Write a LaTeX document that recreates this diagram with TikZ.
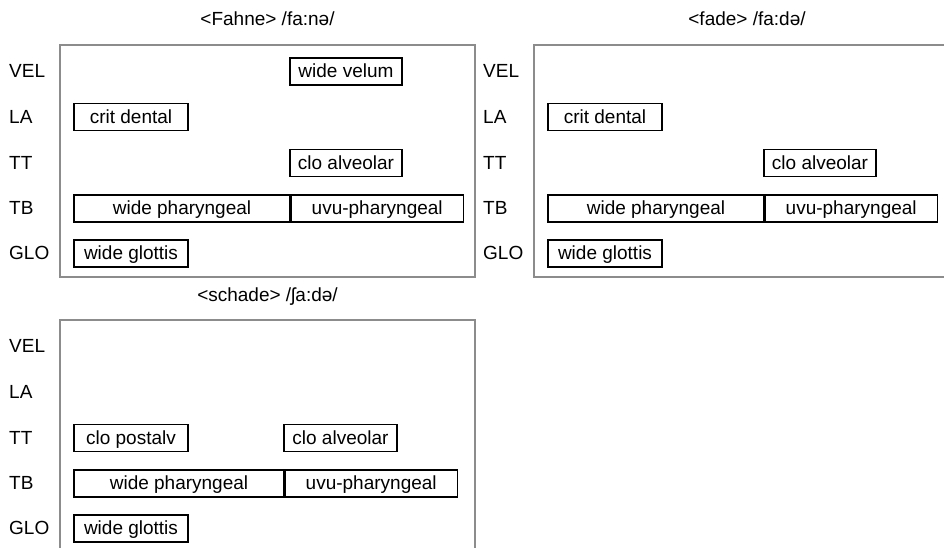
\documentclass[tikz,border=0pt]{standalone}
\usepackage{fontspec}
\setmainfont{Liberation Sans}
\usetikzlibrary{positioning}

\tikzset{
  panel/.style={draw=black!45, line width=1.2pt},
  tier/.style={anchor=west, inner sep=0pt, text height=14pt, text depth=2pt},
  gest/.style={draw, line width=1.2pt, inner sep=0pt, minimum height=27pt, text height=14pt, text depth=2pt},
  word/.style={anchor=base, inner sep=0pt},
}

\begin{document}
\begin{tikzpicture}[x=1pt, y=-1pt, font=\fontsize{19}{22}\selectfont]
		\useasboundingbox (0,0) rectangle (944,547);
		\clip (0,0) rectangle (944,547);
		
		%%%%% FAHNE %%%%%
		\node[word] (fahne) at (267.5,25) {<Fahne> /fa:nə/};
		\draw[panel] (60,45) rectangle (475,277);
		
		\node[tier] (f-vellab) at (9,71.5) {VEL};
		\node[tier] (f-lalab) at (9,117) {LA};
		\node[tier] (f-ttlab) at (9,163) {TT};
		\node[tier] (f-tblab) at (9,208.5) {TB};
		\node[tier] (f-glolab) at (9,253.5) {GLO};
		
		\node[gest, minimum width=112pt] (f-vel) at (346,71.5) {wide velum};
		\node[gest, minimum width=114pt] (f-la) at (131,117) {crit dental};
		\node[gest, minimum width=112pt] (f-tt) at (346,163) {clo alveolar};
		\node[gest, minimum width=216pt] (f-tb1) at (182,208.5) {wide pharyngeal};
		\node[gest, minimum width=172pt, right=0pt of f-tb1] (f-tb2) {uvu-pharyngeal};
		\node[gest, minimum width=114pt] (f-glo) at (131,253.5) {wide glottis};
		
		%%%%% FADE %%%%%
		\node[word] (fade) at (747,25) {<fade> /fa:də/};
		\draw[panel] (534,45) rectangle (949,277);
		
		\node[tier] (d-vellab) at (483,71.5) {VEL};
		\node[tier] (d-lalab) at (483,117) {LA};
		\node[tier] (d-ttlab) at (483,163) {TT};
		\node[tier] (d-tblab) at (483,208.5) {TB};
		\node[tier] (d-glolab) at (483,253.5) {GLO};
		
		\node[gest, minimum width=114pt] (d-la) at (605,117) {crit dental};
		\node[gest, minimum width=112pt] (d-tt) at (820,163) {clo alveolar};
		\node[gest, minimum width=216pt] (d-tb1) at (656,208.5) {wide pharyngeal};
		\node[gest, minimum width=172pt, right=0pt of d-tb1] (d-tb2) {uvu-pharyngeal};
		\node[gest, minimum width=114pt] (d-glo) at (605,253.5) {wide glottis};
		
		%%%%% SCHADE %%%%%
		\node[word] (schade) at (267.5,301) {<schade> /ʃa:də/};
		\draw[panel] (60,320) rectangle (475,552);
		
		\node[tier] (s-vellab) at (9,346.5) {VEL};
		\node[tier] (s-lalab) at (9,392) {LA};
		\node[tier] (s-ttlab) at (9,438) {TT};
		\node[tier] (s-tblab) at (9,483.5) {TB};
		\node[tier] (s-glolab) at (9,528.5) {GLO};
		
		\node[gest, minimum width=114pt] (s-tt1) at (131,438) {clo postalv};
		\node[gest, minimum width=113pt] (s-tt2) at (340.5,438) {clo alveolar};
		\node[gest, minimum width=210pt] (s-tb1) at (179,483.5) {wide pharyngeal};
		\node[gest, minimum width=172pt, right=0pt of s-tb1] (s-tb2) {uvu-pharyngeal};
		\node[gest, minimum width=114pt] (s-glo) at (131,528.5) {wide glottis};
		
		%%%%% END %%%%%
\end{tikzpicture}
\end{document}
